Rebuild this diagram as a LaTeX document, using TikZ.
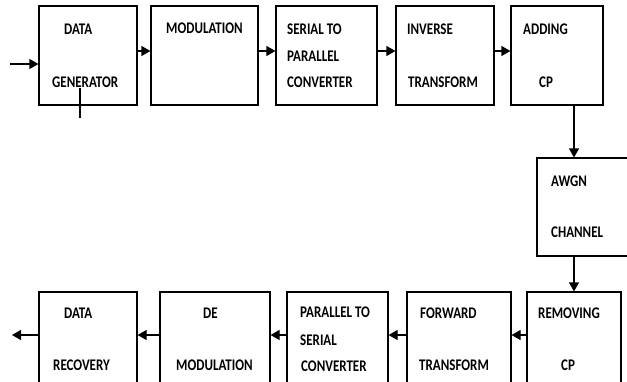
\documentclass[tikz,border=0pt]{standalone}
\usepackage{fontspec}
\setmainfont{Carlito}
\usetikzlibrary{arrows.meta}
\newcommand{\tall}[1]{\scalebox{1}[1.25]{#1}}
\tikzset{
  blk/.style={draw, line width=1.2pt, inner sep=0pt},
  lbl/.style={anchor=base west, inner sep=0pt, font=\fontsize{13}{15}\selectfont\bfseries},
  arr/.style={line width=1.2pt, -{Triangle[length=9pt,width=10pt]}}
}

\begin{document}
\begin{tikzpicture}[x=1pt, y=-1pt]
    \useasboundingbox (0,0) rectangle (627,381);
    \clip (0,0) rectangle (627,381);

    % transmitter row
    \node[blk, minimum width=98pt,  minimum height=99pt] (gen)   at (88,55.5)  {};
    \node[blk, minimum width=107pt, minimum height=99pt] (mod)   at (204.5,55.5) {};
    \node[blk, minimum width=101pt, minimum height=99pt] (stp)   at (326.5,55.5) {};
    \node[blk, minimum width=98pt,  minimum height=99pt] (ifft)  at (445,55.5) {};
    \node[blk, minimum width=92pt,  minimum height=99pt] (addcp) at (557,55.5) {};

    % channel
    \node[blk, minimum width=103pt, minimum height=98pt] (awgn)  at (588.5,207) {};

    % receiver row (runs past the lower edge)
    \node[blk, minimum width=98pt,  minimum height=100pt] (rec)   at (88,342)  {};
    \node[blk, minimum width=110pt, minimum height=100pt] (demod) at (215,342) {};
    \node[blk, minimum width=101pt, minimum height=100pt] (pts)   at (337.5,342) {};
    \node[blk, minimum width=104pt, minimum height=100pt] (fft)   at (459,342) {};
    \node[blk, minimum width=94pt,  minimum height=100pt] (remcp) at (574,342) {};

    % labels
    \node[lbl] (genA)   at (64,34)   {\tall{DATA}};
    \node[lbl] (genB)   at (52,87)   {\tall{GENERATOR}};
    \node[lbl] (modA)   at (166,33)  {\tall{MODULATION}};
    \node[lbl] (stpA)   at (287,34)  {\tall{SERIAL TO}};
    \node[lbl] (stpB)   at (287,61)  {\tall{PARALLEL}};
    \node[lbl] (stpC)   at (287,87)  {\tall{CONVERTER}};
    \node[lbl] (ifftA)  at (407,34)  {\tall{INVERSE}};
    \node[lbl] (ifftB)  at (408,87)  {\tall{TRANSFORM}};
    \node[lbl] (addA)   at (523,34)  {\tall{ADDING}};
    \node[lbl] (addB)   at (539,87)  {\tall{CP}};
    \node[lbl] (awgnA)  at (551,186) {\tall{AWGN}};
    \node[lbl] (awgnB)  at (551,237) {\tall{CHANNEL}};
    \node[lbl] (recA)   at (64,318)  {\tall{DATA}};
    \node[lbl] (recB)   at (53,370)  {\tall{RECOVERY}};
    \node[lbl] (demA)   at (203,318) {\tall{DE}};
    \node[lbl] (demB)   at (176,370) {\tall{MODULATION}};
    \node[lbl] (ptsA)   at (300,317) {\tall{PARALLEL TO}};
    \node[lbl] (ptsB)   at (300,345) {\tall{SERIAL}};
    \node[lbl] (ptsC)   at (301,371) {\tall{CONVERTER}};
    \node[lbl] (fftA)   at (420,318) {\tall{FORWARD}};
    \node[lbl] (fftB)   at (419,370) {\tall{TRANSFORM}};
    \node[lbl] (remA)   at (538,318) {\tall{REMOVING}};
    \node[lbl] (remB)   at (561,370) {\tall{CP}};

    % connectors
    \coordinate (in)   at (10,64);
    \coordinate (out)  at (12,335);
    \coordinate (tick) at (80,118);
    \draw[arr] (in) -- (in -| gen.west);
    \draw[line width=1.2pt] (tick) -- ++(0,-30);
    \draw[arr] ([yshift=4.5pt]gen.east)  -- ([yshift=4.5pt]mod.west);
    \draw[arr] ([yshift=4.5pt]mod.east)  -- ([yshift=4.5pt]stp.west);
    \draw[arr] ([yshift=4.5pt]stp.east)  -- ([yshift=4.5pt]ifft.west);
    \draw[arr] ([yshift=4.5pt]ifft.east) -- ([yshift=4.5pt]addcp.west);
    \draw[arr] (addcp.south -| remcp) -- (awgn.north -| remcp);
    \draw[arr] (awgn.south -| remcp) -- (remcp.north);
    \draw[arr] ([yshift=7pt]remcp.west) -- ([yshift=7pt]fft.east);
    \draw[arr] ([yshift=7pt]fft.west)   -- ([yshift=7pt]pts.east);
    \draw[arr] ([yshift=7pt]pts.west)   -- ([yshift=7pt]demod.east);
    \draw[arr] ([yshift=7pt]demod.west) -- ([yshift=7pt]rec.east);
    \draw[arr] (rec.west |- out) -- (out);
\end{tikzpicture}
\end{document}
